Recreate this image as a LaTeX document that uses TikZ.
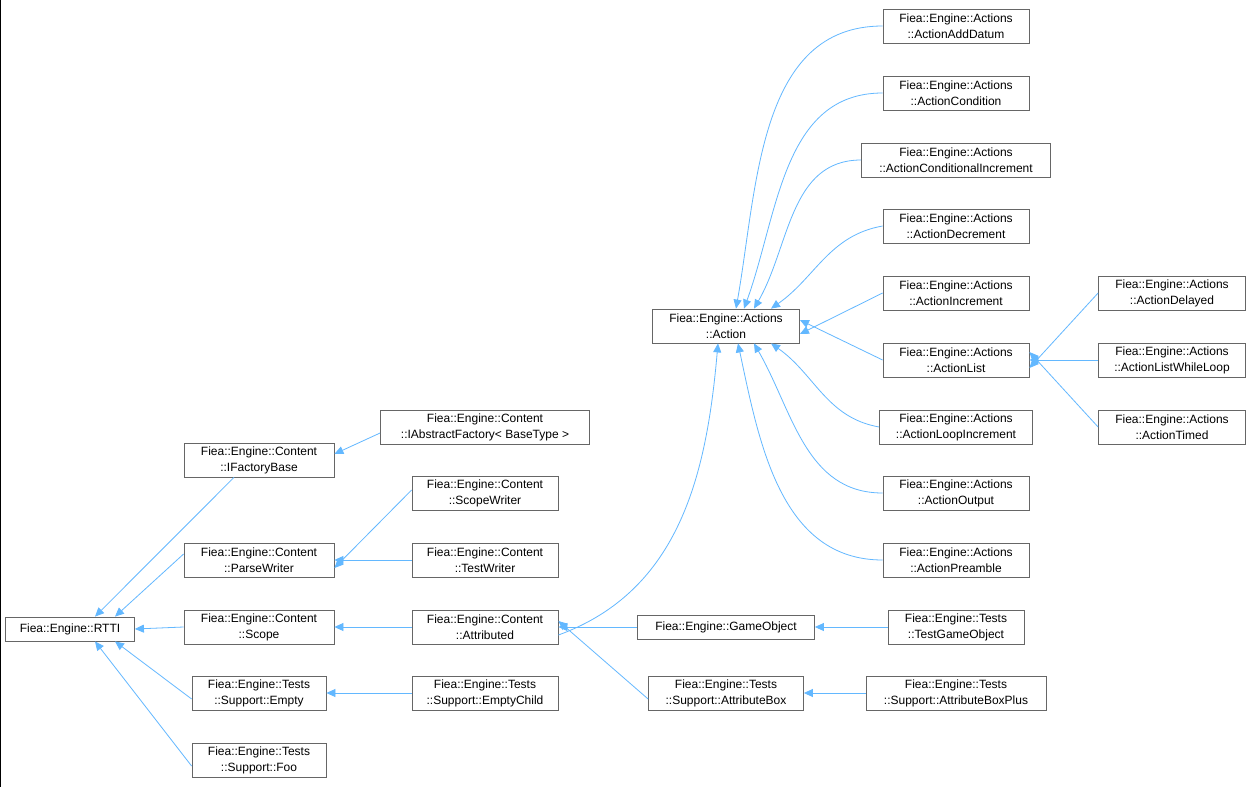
\documentclass[tikz,border=0pt]{standalone}
\usepackage{fontspec}
\setmainfont{Liberation Sans}
\usetikzlibrary{arrows.meta}
\definecolor{edge}{HTML}{63B8FF}
\definecolor{bord}{HTML}{666666}
\begin{document}
\begin{tikzpicture}[x=1pt,y=-1pt,
  box/.style={draw=bord,fill=white,align=center,font=\fontsize{12}{16}\selectfont,inner sep=0pt,minimum height=34pt,line width=0.8pt},
  one/.style={box,minimum height=24pt},
  e/.style={draw=edge,line width=0.8pt,-{Triangle[length=9pt,width=8pt]}}]
\useasboundingbox[fill=white] (0,0) rectangle (1253,787);
\draw[black,line width=1pt] (0.5,0) -- (0.5,787);
\node[one,minimum width=129pt] (rtti) at (70,629) {Fiea::Engine::RTTI};
\node[box,minimum width=150pt] (ifb) at (259,460) {Fiea::Engine::Content\\::IFactoryBase};
\node[box,minimum width=209pt] (iaf) at (485,427) {Fiea::Engine::Content\\::IAbstractFactory< BaseType >};
\node[box,minimum width=146pt] (sw) at (485,493) {Fiea::Engine::Content\\::ScopeWriter};
\node[box,minimum width=150pt] (pw) at (259,560) {Fiea::Engine::Content\\::ParseWriter};
\node[box,minimum width=146pt] (tw) at (485,560) {Fiea::Engine::Content\\::TestWriter};
\node[box,minimum width=150pt] (sc) at (259,627) {Fiea::Engine::Content\\::Scope};
\node[box,minimum width=146pt] (at) at (485,627) {Fiea::Engine::Content\\::Attributed};
\node[box,minimum width=134pt] (em) at (259,693) {Fiea::Engine::Tests\\::Support::Empty};
\node[box,minimum width=146pt] (ec) at (485,693) {Fiea::Engine::Tests\\::Support::EmptyChild};
\node[box,minimum width=134pt] (foo) at (259,760) {Fiea::Engine::Tests\\::Support::Foo};
\node[box,minimum width=147pt] (act) at (726,326) {Fiea::Engine::Actions\\::Action};
\node[one,minimum width=177pt] (go) at (726,627) {Fiea::Engine::GameObject};
\node[box,minimum width=155pt] (ab) at (726,693) {Fiea::Engine::Tests\\::Support::AttributeBox};
\node[box,minimum width=136pt] (tgo) at (956,627) {Fiea::Engine::Tests\\::TestGameObject};
\node[box,minimum width=180pt] (abp) at (956,693) {Fiea::Engine::Tests\\::Support::AttributeBoxPlus};
\node[box,minimum width=146pt] (a1) at (956,26) {Fiea::Engine::Actions\\::ActionAddDatum};
\node[box,minimum width=146pt] (a2) at (956,93) {Fiea::Engine::Actions\\::ActionCondition};
\node[box,minimum width=189pt] (a3) at (956,160) {Fiea::Engine::Actions\\::ActionConditionalIncrement};
\node[box,minimum width=146pt] (a4) at (956,226) {Fiea::Engine::Actions\\::ActionDecrement};
\node[box,minimum width=146pt] (a5) at (956,293) {Fiea::Engine::Actions\\::ActionIncrement};
\node[box,minimum width=146pt] (a6) at (956,360) {Fiea::Engine::Actions\\::ActionList};
\node[box,minimum width=153pt] (a7) at (956,427) {Fiea::Engine::Actions\\::ActionLoopIncrement};
\node[box,minimum width=146pt] (a8) at (956,493) {Fiea::Engine::Actions\\::ActionOutput};
\node[box,minimum width=146pt] (a9) at (956,560) {Fiea::Engine::Actions\\::ActionPreamble};
\node[box,minimum width=147pt] (d1) at (1172,293) {Fiea::Engine::Actions\\::ActionDelayed};
\node[box,minimum width=147pt] (d2) at (1172,360) {Fiea::Engine::Actions\\::ActionListWhileLoop};
\node[box,minimum width=147pt] (d3) at (1172,427) {Fiea::Engine::Actions\\::ActionTimed};
% edges
\path[e] ([yshift=-6pt]iaf.west) -- ([yshift=6pt]ifb.east);
\path[e] ([xshift=-25pt]ifb.south) -- ([xshift=25pt]rtti.north);
\path[e] ([yshift=3pt]sw.west) -- ([yshift=-8pt]pw.east);
\path[e] (tw.west) -- (pw.east);
\path[e] ([yshift=6pt]pw.west) -- ([xshift=45pt]rtti.north);
\path[e] (sc.west) -- (rtti.east);
\path[e] (at.west) -- (sc.east);
\path[e] (ec.west) -- (em.east);
\path[e] ([yshift=-6pt]em.west) -- ([xshift=45pt]rtti.south);
\path[e] ([yshift=-6pt]foo.west) -- ([xshift=25pt]rtti.south);
\path[e] (go.west) -- (at.east);
\path[e] ([yshift=-6pt]ab.west) -- ([yshift=6pt]at.east);
\path[e] (tgo.west) -- (go.east);
\path[e] (abp.west) -- (ab.east);
\path[e] ([yshift=-8pt]at.east) to[out=20,in=-95] ([xshift=-8pt]act.south);
\path[e] (a1.west) to[out=180,in=80] ([xshift=10pt]act.north);
\path[e] (a2.west) to[out=180,in=70] ([xshift=18pt]act.north);
\path[e] (a3.west) to[out=180,in=60] ([xshift=28pt]act.north);
\path[e] (a4.west) to[out=190,in=35] ([xshift=45pt]act.north);
\path[e] (a5.west) -- ([yshift=-8pt]act.east);
\path[e] (a6.west) -- ([yshift=6pt]act.east);
\path[e] (a7.west) to[out=170,in=-35] ([xshift=45pt]act.south);
\path[e] (a8.west) to[out=180,in=-60] ([xshift=28pt]act.south);
\path[e] (a9.west) to[out=180,in=-78] ([xshift=12pt]act.south);
\path[e] (d1.west) -- ([yshift=-8pt]a6.east);
\path[e] (d2.west) -- (a6.east);
\path[e] (d3.west) -- ([yshift=8pt]a6.east);
\end{tikzpicture}
\end{document}
